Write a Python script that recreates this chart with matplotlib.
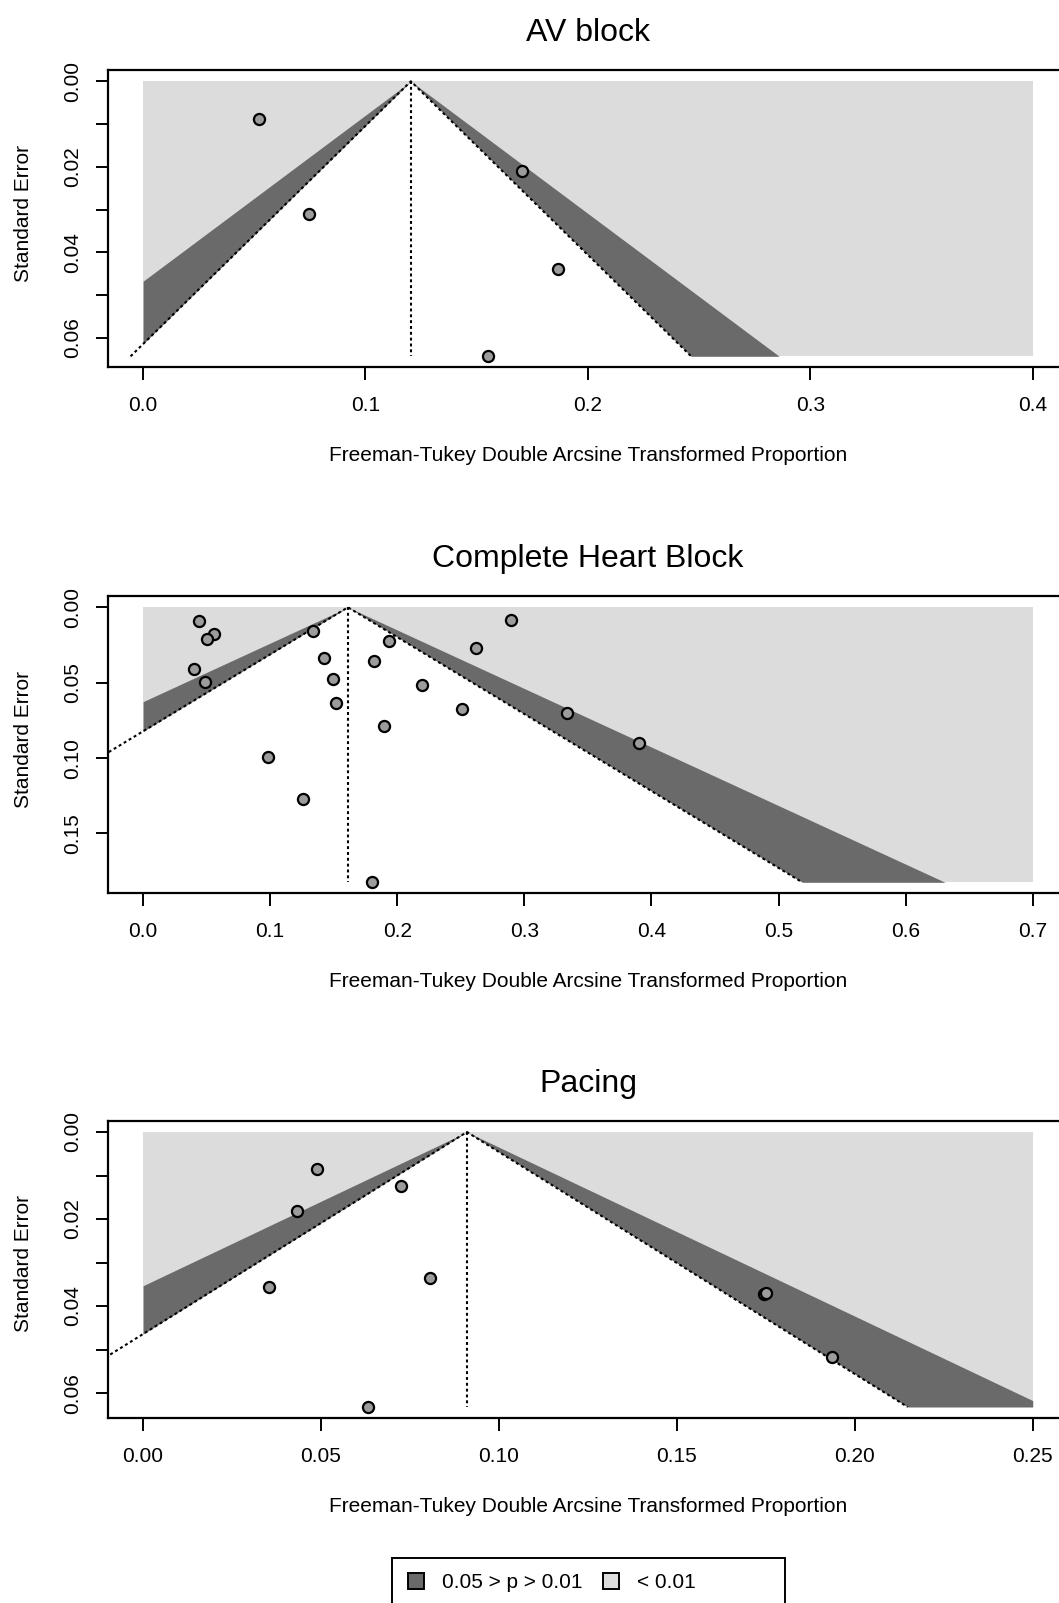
import numpy as np
import matplotlib.pyplot as plt
from matplotlib.lines import Line2D
from matplotlib.patches import Rectangle

plt.rcParams['font.family'] = ['Liberation Sans', 'DejaVu Sans']

# --- data ---
titles = ['AV block', 'Complete Heart Block', 'Pacing']

# pooled estimates (apex of funnel)
estimates = [0.1204, 0.1612, 0.0910]

# largest standard error (bottom of funnel)
se_max = [0.0643, 0.1824, 0.0632]

# x limits of the contour region
x_lims = [(0.0, 0.4), (0.0, 0.7), (0.0, 0.25)]

# study points
av_x = [0.0523, 0.0748, 0.1702, 0.1866, 0.1550]
av_se = [0.0089, 0.0311, 0.0209, 0.0439, 0.0643]

chb_x = [0.0441, 0.0559, 0.0505, 0.0404, 0.0489, 0.1335, 0.1420, 0.1495,
         0.1521, 0.0984, 0.1261, 0.1798, 0.1819, 0.1936, 0.1894, 0.2197,
         0.2511, 0.2617, 0.2894, 0.3335, 0.3899]
chb_se = [0.0091, 0.0178, 0.0211, 0.0408, 0.0497, 0.0155, 0.0333, 0.0477,
          0.0635, 0.0990, 0.1269, 0.1824, 0.0357, 0.0222, 0.0785, 0.0517,
          0.0672, 0.0271, 0.0082, 0.0703, 0.0903]

pac_x = [0.0488, 0.0726, 0.0433, 0.0353, 0.0807, 0.1745, 0.1750, 0.1936, 0.0631]
pac_se = [0.0084, 0.0125, 0.0181, 0.0356, 0.0335, 0.0372, 0.0371, 0.0517, 0.0632]

xs = [av_x, chb_x, pac_x]
ses = [av_se, chb_se, pac_se]

x_ticks = [np.arange(0, 0.41, 0.1), np.arange(0, 0.71, 0.1), np.arange(0, 0.251, 0.05)]
x_fmt = ['%.1f', '%.1f', '%.2f']
y_ticks = [np.arange(0, 0.061, 0.01), np.arange(0, 0.151, 0.05), np.arange(0, 0.061, 0.01)]
y_labeled = [[0.0, 0.02, 0.04, 0.06], [0.0, 0.05, 0.10, 0.15], [0.0, 0.02, 0.04, 0.06]]

legend_labels = ['0.05 > p > 0.01', '< 0.01']

light = '#dcdcdc'
dark = '#6a6a6a'
pt_col = '#9c9c9c'

fig = plt.figure(figsize=(10.59, 16.03), dpi=100)
W, H = 1059, 1603

# axes box tops in pixels
box_tops = [70.3, 596.3, 1121.0]
box_h = 297.0
box_left = 107.5
box_right = 1068.3
fs = 15

for i in range(3):
    top = box_tops[i]
    ax = fig.add_axes([box_left / W, 1 - (top + box_h) / H,
                       (box_right - box_left) / W, box_h / H])
    est = estimates[i]
    smax = se_max[i]
    x0, x1 = x_lims[i]
    xpad = 0.04 * (x1 - x0)
    ypad = 0.04 * smax

    se = np.linspace(0, smax, 2000)
    # whole region (p < 0.01)
    ax.fill_betweenx([0, smax], x0, x1, color=light, lw=0)
    # 99% funnel
    ax.fill_betweenx(se, np.clip(est - 2.576 * se, x0, x1),
                     np.clip(est + 2.576 * se, x0, x1), color=dark, lw=0)
    # 95% funnel (white), run a bit past the edges so no seam shows
    se_w = np.linspace(0, smax + ypad, 2000)
    ax.fill_betweenx(se_w, np.clip(est - 1.96 * se_w, x0 - xpad, x1),
                     np.clip(est + 1.96 * se_w, x0, x1 + xpad),
                     color='white', lw=0)

    ls = (0, (1.4, 1.4))
    ax.plot([est, est], [0, smax], color='black', lw=1.5, ls=ls)
    ax.plot([est - 1.96 * smax, est, est + 1.96 * smax], [smax, 0, smax],
            color='black', lw=1.5, ls=ls)

    ax.scatter(xs[i], ses[i], s=64, facecolor=pt_col, edgecolor='black',
               linewidth=1.6, zorder=5)

    ax.set_xlim(x0 - xpad, x1 + xpad)
    ax.set_ylim(smax + ypad, -ypad)

    ax.set_xticks(x_ticks[i])
    ax.set_xticklabels([x_fmt[i] % v for v in x_ticks[i]])
    yt = y_ticks[i]
    ax.set_yticks(yt)
    ylabs = []
    for v in yt:
        if any(abs(v - l) < 1e-9 for l in y_labeled[i]):
            ylabs.append('%.2f' % v)
        else:
            ylabs.append('')
    ax.set_yticklabels(ylabs, rotation=90, va='center')

    ax.tick_params(axis='x', direction='out', length=9, width=1.4,
                   labelsize=fs, pad=12)
    ax.tick_params(axis='y', direction='out', length=9, width=1.4,
                   labelsize=fs, pad=9)
    for s in ax.spines.values():
        s.set_linewidth(1.6)

    fig.text(588 / W, 1 - (top - 37) / H, titles[i], ha='center',
             va='center', fontsize=23)
    fig.text(588 / W, 1 - (top + 385) / H,
             'Freeman-Tukey Double Arcsine Transformed Proportion',
             ha='center', va='center', fontsize=fs)
    fig.text(24 / W, 1 - (top + 143) / H, 'Standard Error', ha='center',
             va='center', rotation=90, fontsize=fs)

# legend, with an R-style box that runs off the bottom of the page
handles = [Line2D([], [], marker='s', ls='none', markersize=11,
                  markerfacecolor=c, markeredgecolor='black', markeredgewidth=1.4)
           for c in (dark, light)]
fig.legend(handles, legend_labels, ncol=2, loc='center left',
           bbox_to_anchor=(406 / W, 1 - 1583 / H), fontsize=fs, frameon=False,
           borderpad=0, borderaxespad=0, handlelength=1.0, handletextpad=0.75,
           columnspacing=0.85)
fig.patches.append(Rectangle((391.6 / W, -0.02), (785.3 - 391.6) / W,
                             1 - 1558.3 / H + 0.02, transform=fig.transFigure,
                             fill=False, edgecolor='black', lw=1.4))

fig.savefig('out.png', dpi=100)
